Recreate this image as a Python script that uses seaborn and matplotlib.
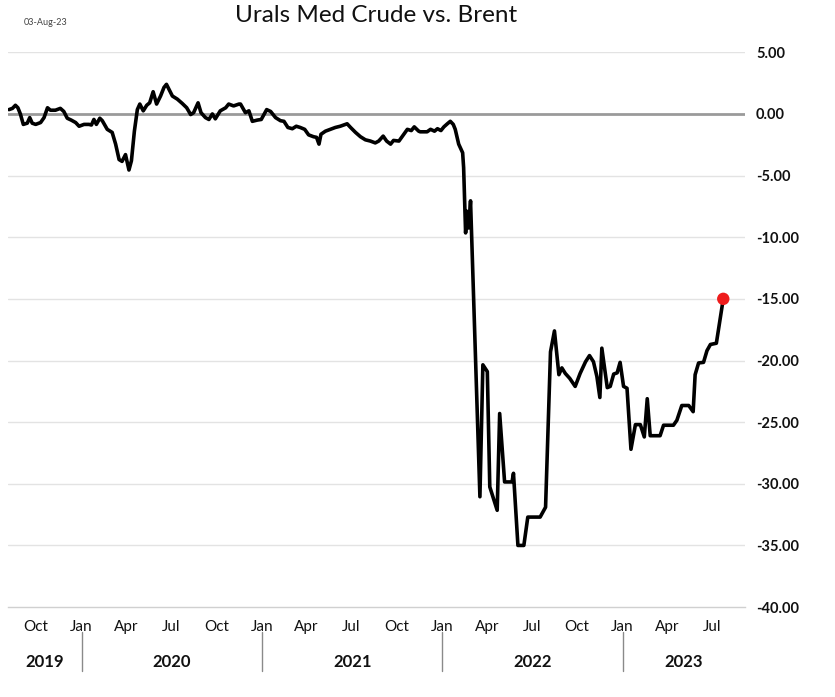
import pandas as pd
import numpy as np
import matplotlib
matplotlib.use("Agg")
import matplotlib.pyplot as plt
import matplotlib.dates as mdates
from matplotlib.lines import Line2D
import seaborn as sns

# Urals Med crude spread vs Brent, USD/bbl
dates = [
    "2019-08-07", "2019-08-14", "2019-08-20", "2019-08-25", "2019-08-30", "2019-09-05",
    "2019-09-13", "2019-09-18", "2019-09-23", "2019-09-30", "2019-10-10", "2019-10-17",
    "2019-10-24", "2019-10-30", "2019-11-09", "2019-11-19", "2019-11-26", "2019-12-03",
    "2019-12-11", "2019-12-20", "2019-12-27", "2020-01-06", "2020-01-16", "2020-01-21",
    "2020-01-26", "2020-01-31", "2020-02-07", "2020-02-12", "2020-02-22", "2020-03-03",
    "2020-03-10", "2020-03-17", "2020-03-23", "2020-03-30", "2020-04-06", "2020-04-11",
    "2020-04-17", "2020-04-23", "2020-04-28", "2020-05-05", "2020-05-12", "2020-05-18",
    "2020-05-25", "2020-06-01", "2020-06-09", "2020-06-16", "2020-06-21", "2020-06-26",
    "2020-07-03", "2020-07-13", "2020-07-23", "2020-08-01", "2020-08-09", "2020-08-15",
    "2020-08-24", "2020-08-30", "2020-09-08", "2020-09-15", "2020-09-22", "2020-09-28",
    "2020-10-08", "2020-10-19", "2020-10-25", "2020-11-04", "2020-11-15", "2020-11-18",
    "2020-11-28", "2020-12-05", "2020-12-12", "2020-12-22", "2020-12-30", "2021-01-10",
    "2021-01-18", "2021-01-28", "2021-02-07", "2021-02-14", "2021-02-22", "2021-03-03",
    "2021-03-11", "2021-03-19", "2021-03-28", "2021-04-05", "2021-04-15", "2021-04-21",
    "2021-04-26", "2021-04-30", "2021-05-09", "2021-05-19", "2021-05-29", "2021-06-08",
    "2021-06-22", "2021-06-29", "2021-07-09", "2021-07-19", "2021-07-29", "2021-08-08",
    "2021-08-18", "2021-08-25", "2021-09-03", "2021-09-10", "2021-09-18", "2021-09-24",
    "2021-10-05", "2021-10-15", "2021-10-22", "2021-10-30", "2021-11-05", "2021-11-14",
    "2021-11-17", "2021-12-01", "2021-12-08", "2021-12-16", "2021-12-22", "2021-12-29",
    "2022-01-04", "2022-01-11", "2022-01-17", "2022-01-23", "2022-01-27", "2022-02-03",
    "2022-02-11", "2022-02-13", "2022-02-17", "2022-02-20", "2022-02-23", "2022-02-27",
    "2022-03-18", "2022-03-24", "2022-04-02", "2022-04-07", "2022-04-22", "2022-04-27",
    "2022-05-07", "2022-05-22", "2022-05-25", "2022-06-03", "2022-06-15", "2022-06-23",
    "2022-07-18", "2022-07-29", "2022-08-08", "2022-08-16", "2022-08-25", "2022-08-31",
    "2022-09-07", "2022-09-16", "2022-09-27", "2022-10-07", "2022-10-18", "2022-10-26",
    "2022-11-03", "2022-11-10", "2022-11-16", "2022-11-20", "2022-12-01", "2022-12-07",
    "2022-12-14", "2022-12-21", "2022-12-27", "2023-01-03", "2023-01-10", "2023-01-18",
    "2023-01-27", "2023-02-06", "2023-02-14", "2023-02-20", "2023-02-26", "2023-03-18",
    "2023-03-25", "2023-04-14", "2023-04-21", "2023-05-01", "2023-05-15", "2023-05-24",
    "2023-05-28", "2023-06-04", "2023-06-14", "2023-06-21", "2023-06-28", "2023-07-10",
    "2023-07-24",
]
spread = [
    0.35, 0.45, 0.70, 0.50, 0.00, -0.85,
    -0.75, -0.30, -0.75, -0.85, -0.70, -0.30,
    0.50, 0.30, 0.30, 0.45, 0.20, -0.35,
    -0.50, -0.70, -1.00, -0.85, -0.85, -0.90,
    -0.45, -0.85, -0.35, -0.55, -1.25, -1.50,
    -2.45, -3.70, -3.85, -3.30, -4.55, -3.80,
    -1.40, 0.35, 0.80, 0.25, 0.70, 0.90,
    1.80, 0.80, 1.45, 2.15, 2.40, 2.00,
    1.45, 1.20, 0.85, 0.50, -0.05, 0.10,
    0.90, 0.10, -0.30, -0.45, 0.00, -0.40,
    0.25, 0.50, 0.80, 0.65, 0.80, 0.80,
    0.10, 0.25, -0.60, -0.50, -0.45, 0.35,
    0.20, -0.30, -0.55, -0.60, -1.10, -1.20,
    -1.00, -1.10, -1.25, -1.70, -1.85, -1.90,
    -2.45, -1.65, -1.40, -1.25, -1.10, -1.00,
    -0.80, -1.10, -1.50, -1.85, -2.10, -2.20,
    -2.35, -2.20, -1.80, -2.20, -2.45, -2.15,
    -2.20, -1.65, -1.25, -1.35, -1.05, -1.40,
    -1.45, -1.45, -1.25, -1.40, -1.20, -1.35,
    -1.05, -0.80, -0.60, -0.85, -1.25, -2.45,
    -3.15, -4.35, -9.65, -7.90, -9.25, -7.05,
    -31.05, -20.35, -20.90, -30.25, -32.15, -24.30,
    -29.85, -29.85, -29.15, -35.00, -35.00, -32.70,
    -32.70, -31.90, -19.30, -17.60, -21.15, -20.60,
    -21.05, -21.45, -22.10, -21.05, -20.10, -19.60,
    -20.10, -21.30, -23.00, -19.00, -22.20, -22.10,
    -21.10, -21.00, -20.15, -22.10, -22.25, -27.20,
    -25.20, -25.20, -26.20, -23.10, -26.10, -26.10,
    -25.25, -25.25, -24.85, -23.65, -23.65, -24.15,
    -21.15, -20.20, -20.15, -19.20, -18.70, -18.60,
    -15.00,
]

df = pd.DataFrame({"date": pd.to_datetime(dates), "spread": spread})

years = [2019, 2020, 2021, 2022, 2023]
yticks = [5, 0, -5, -10, -15, -20, -25, -30, -35, -40]

sns.set_theme(style="white")
plt.rcParams["font.family"] = ["Lato", "DejaVu Sans"]

fig = plt.figure(figsize=(8.35, 6.97), dpi=100)
ax = fig.add_axes([0.0096, 0.129, 0.8826, 0.796])

x_min = pd.Timestamp("2019-08-05")
x_max = pd.Timestamp("2023-09-06")

# grid lines
for v in yticks:
    if v == 0:
        ax.axhline(v, color="#9a9a9a", lw=2.0, zorder=1)
    elif v != -40:
        ax.axhline(v, color="#e3e3e3", lw=1.0, zorder=0)

sns.lineplot(data=df, x="date", y="spread", color="black", lw=2.6, ax=ax, zorder=3)
sns.scatterplot(x=df["date"].iloc[-1:], y=df["spread"].iloc[-1:], color="#ee1c1c",
                s=80, edgecolor="none", ax=ax, zorder=4)

ax.set_xlim(x_min, x_max)
ax.set_ylim(-40, 5)
ax.set_xlabel("")
ax.set_ylabel("")

# right-hand value axis
ax.yaxis.tick_right()
ax.set_yticks(yticks)
ax.set_yticklabels([f"{v:.2f}" for v in yticks], fontweight="bold", fontsize=10.5)
ax.tick_params(axis="y", length=0, pad=8, colors="#111111")

# month ticks
ax.xaxis.set_major_locator(mdates.MonthLocator(bymonth=[1, 4, 7, 10]))
ax.xaxis.set_major_formatter(mdates.DateFormatter("%b"))
ax.tick_params(axis="x", length=6, direction="inout", width=1,
               labelsize=11, pad=6, color="#9a9a9a", labelcolor="#111111")

for side in ["top", "left", "right"]:
    ax.spines[side].set_visible(False)
ax.spines["bottom"].set_color("#d0d0d0")
ax.spines["bottom"].set_linewidth(1.0)

# year labels and separators
trans = ax.get_xaxis_transform()
for yr in years:
    start = max(pd.Timestamp(f"{yr}-01-01"), x_min)
    end = min(pd.Timestamp(f"{yr + 1}-01-01"), x_max)
    mid = start + (end - start) / 2
    ax.text(mid, -0.099, str(yr), transform=trans, ha="center", va="center",
            fontsize=12, fontweight="bold", color="#111111")
    if yr > 2019:
        ax.add_line(Line2D([pd.Timestamp(f"{yr}-01-01")] * 2, [-0.045, -0.115],
                           transform=trans, color="#8a8a8a", lw=1.0, clip_on=False))

fig.text(0.45, 0.978, "Urals Med Crude vs. Brent", ha="center", va="center",
         fontsize=17.5, color="#111111")
fig.text(0.028, 0.968, "03-Aug-23", ha="left", va="center", fontsize=6.5, color="#444444")

fig.savefig("out.png", dpi=100)
